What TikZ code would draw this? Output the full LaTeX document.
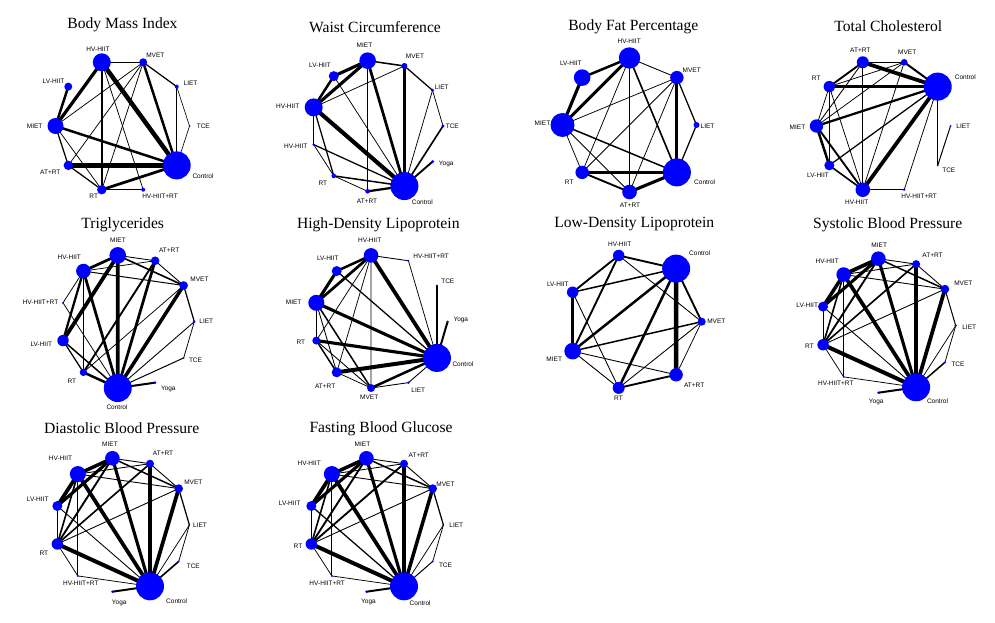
\documentclass[tikz,border=0pt]{standalone}
\usepackage{fontspec}
\setmainfont{Liberation Serif}
\newfontfamily\lbfont{Liberation Sans}
\usetikzlibrary{calc}
\pgfdeclarelayer{bg}\pgfsetlayers{bg,main}
\tikzset{
  nd/.style={circle, fill={rgb,255:red,0;green,0;blue,255}, draw=none, inner sep=0pt},
  lb/.style={font=\fontsize{6.5}{7}\selectfont\lbfont, inner sep=0pt},
  ttl/.style={font=\fontsize{15.6}{18}\selectfont, inner sep=0pt},
  edgeline/.style={draw=black, line cap=butt}
}
\newcommand\Ring[4]{%
  \foreach \nm/\sz [count=\k from 0] in \nodelist {%
    \node[nd, minimum size={2*\sz*1pt}] (\pp-\nm) at ($(#1,#2)+({-\k*360/#4}:#3)$) {};}}
\newcommand\edg[3]{\draw[edgeline, line width={#3*1.25pt}] (\pp-#1.center) -- (\pp-#2.center);}
\newcommand\lab[4]{\node[lb] (\pp-#1-l) at (#2,#3) {#4};}
\begin{document}
\begin{tikzpicture}[x=1pt,y=-1pt]
\begin{pgfonlayer}{bg}
\fill[white] (0,0) rectangle (995,623);
\end{pgfonlayer}
\path[use as bounding box] (0,0) rectangle (995,623);

% ---------- Panel a: Body Mass Index
\def\pp{a}
\node[ttl] (a-t) at (122.5,25) {Body Mass Index};
\def\nodelist{TCE/1, LIET/2, MVET/4, HV/9, LV/4, MIET/8, ATRT/4.7, RT/4.7, HVRT/2, Ctrl/14}
\Ring{122.5}{126}{67}{10}
\begin{pgfonlayer}{bg}
\edg{HV}{MVET}{1}\edg{HV}{MIET}{2.6}\edg{LV}{MIET}{2}\edg{HV}{Ctrl}{3.6}
\edg{HV}{RT}{1.2}\edg{HV}{HVRT}{0.6}\edg{MVET}{Ctrl}{2}\edg{MVET}{LIET}{1}
\edg{MVET}{MIET}{0.6}\edg{MVET}{ATRT}{0.6}\edg{MVET}{RT}{0.6}\edg{LIET}{Ctrl}{1}
\edg{LIET}{TCE}{0.5}\edg{TCE}{Ctrl}{0.5}\edg{MIET}{Ctrl}{2}\edg{MIET}{ATRT}{1}
\edg{MIET}{RT}{0.6}\edg{ATRT}{Ctrl}{3.4}\edg{ATRT}{RT}{1}\edg{RT}{Ctrl}{2.2}
\edg{RT}{HVRT}{0.6}
\end{pgfonlayer}
\lab{HV}{98}{49.3}{HV-HIIT}\lab{MVET}{155.3}{55}{MVET}\lab{LV}{53.5}{81}{LV-HIIT}
\lab{LIET}{190.5}{83}{LIET}\lab{MIET}{34.7}{126}{MIET}\lab{TCE}{203.3}{126.7}{TCE}
\lab{ATRT}{50.3}{172.3}{AT+RT}\lab{Ctrl}{203}{175.7}{Control}\lab{RT}{93.7}{196.7}{RT}
\lab{HVRT}{160}{196.7}{HV-HIIT+RT}

% ---------- Panel b: Waist Circumference
\def\pp{b}
\node[ttl] (b-t) at (375,26.7) {Waist Circumference};
\def\nodelist{TCE/1.7, LIET/1.7, MVET/3, MIET/8.3, LV/5, HV/9, HV2/1.3, RT/2.3, ATRT/2.3, Ctrl/14, Yoga/1.7}
\Ring{377}{126}{66}{11}
\begin{pgfonlayer}{bg}
\edg{MIET}{MVET}{1.2}\edg{MIET}{LV}{2.5}\edg{MIET}{HV}{2.5}\edg{MIET}{Ctrl}{2.2}
\edg{MIET}{ATRT}{0.6}\edg{LV}{HV}{2}\edg{LV}{Ctrl}{0.6}\edg{MVET}{HV}{0.6}
\edg{MVET}{LIET}{1}\edg{MVET}{Ctrl}{1.8}\edg{LIET}{TCE}{0.6}\edg{LIET}{Ctrl}{0.6}
\edg{TCE}{Ctrl}{1.3}\edg{Yoga}{Ctrl}{1.5}\edg{HV}{Ctrl}{3.3}\edg{HV}{HV2}{1}
\edg{HV}{RT}{1}\edg{HV2}{RT}{0.6}\edg{HV2}{Ctrl}{1}\edg{RT}{Ctrl}{1.2}
\edg{RT}{ATRT}{0.6}\edg{ATRT}{Ctrl}{1.8}
\end{pgfonlayer}
\lab{MIET}{364.5}{45}{MIET}\lab{MVET}{415}{56.7}{MVET}\lab{LV}{320}{65}{LV-HIIT}
\lab{LIET}{441.7}{87.3}{LIET}\lab{HV}{287.7}{106}{HV-HIIT}\lab{TCE}{452.3}{126}{TCE}
\lab{HV2}{295.8}{146.7}{HV-HIIT}\lab{Yoga}{446.2}{164}{Yoga}\lab{RT}{322.8}{183.3}{RT}
\lab{ATRT}{367}{201}{AT+RT}\lab{Ctrl}{422.3}{202.5}{Control}

% ---------- Panel c: Body Fat Percentage
\def\pp{c}
\node[ttl] (c-t) at (633.3,26.7) {Body Fat Percentage};
\def\nodelist{LIET/3, MVET/6.7, HV/10.7, LV/8.3, MIET/12, RT/6.7, ATRT/7.3, Ctrl/14}
\Ring{629.5}{125}{67}{8}
\begin{pgfonlayer}{bg}
\edg{HV}{LV}{2}\edg{HV}{MIET}{2.5}\edg{HV}{MVET}{0.7}\edg{HV}{Ctrl}{1.3}
\edg{HV}{RT}{0.6}\edg{HV}{ATRT}{0.6}\edg{LV}{MIET}{2.5}\edg{MVET}{MIET}{0.6}
\edg{MVET}{Ctrl}{2.5}\edg{MVET}{LIET}{1}\edg{MVET}{RT}{0.6}\edg{MVET}{ATRT}{0.6}
\edg{LIET}{Ctrl}{1}\edg{MIET}{Ctrl}{1.2}\edg{MIET}{RT}{0.6}\edg{MIET}{ATRT}{0.6}
\edg{RT}{Ctrl}{2.2}\edg{RT}{ATRT}{1.5}\edg{ATRT}{Ctrl}{2.5}
\end{pgfonlayer}
\lab{HV}{629.2}{41.7}{HV-HIIT}\lab{LV}{570.8}{63.3}{LV-HIIT}\lab{MVET}{691.7}{70}{MVET}
\lab{MIET}{542.5}{123.3}{MIET}\lab{LIET}{707.5}{126}{LIET}\lab{RT}{569.2}{182.3}{RT}
\lab{Ctrl}{704.7}{181.7}{Control}\lab{ATRT}{630}{205}{AT+RT}

% ---------- Panel d: Total Cholesterol
\def\pp{d}
\node[ttl] (d-t) at (888.3,26) {Total Cholesterol};
\def\nodelist{LIET/1, Ctrl/14, MVET/3.3, ATRT/6, RT/5.7, MIET/6.7, LV/5, HV/7.3, HVRT/1.3, TCE/1}
\Ring{883.5}{126}{67}{10}
\begin{pgfonlayer}{bg}
\edg{ATRT}{MVET}{0.7}\edg{ATRT}{Ctrl}{3}\edg{ATRT}{RT}{1.5}\edg{ATRT}{MIET}{0.7}
\edg{ATRT}{HV}{0.7}\edg{MVET}{Ctrl}{1.6}\edg{MVET}{RT}{0.6}\edg{MVET}{MIET}{0.6}
\edg{MVET}{HV}{0.6}\edg{RT}{Ctrl}{2}\edg{RT}{MIET}{0.6}\edg{RT}{LV}{0.6}
\edg{RT}{HV}{0.6}\edg{MIET}{Ctrl}{1.8}\edg{MIET}{LV}{2}\edg{MIET}{HV}{1.5}
\edg{LV}{Ctrl}{1}\edg{LV}{HV}{1.3}\edg{HV}{Ctrl}{3}\edg{HV}{HVRT}{0.6}
\edg{HVRT}{Ctrl}{0.6}\edg{Ctrl}{TCE}{0.8}\edg{TCE}{LIET}{0.8}
\end{pgfonlayer}
\lab{ATRT}{860.3}{50}{AT+RT}\lab{MVET}{907.2}{52.3}{MVET}\lab{Ctrl}{965.3}{77.3}{Control}
\lab{RT}{816.2}{78.3}{RT}\lab{MIET}{797.5}{127.7}{MIET}\lab{LIET}{963.3}{126}{LIET}
\lab{LV}{818}{175.7}{LV-HIIT}\lab{TCE}{948.8}{170}{TCE}\lab{HV}{856.7}{202.3}{HV-HIIT}
\lab{HVRT}{919.2}{196.7}{HV-HIIT+RT}

% ---------- Panel e: Triglycerides
\def\pp{e}
\node[ttl] (e-t) at (122.7,224.3) {Triglycerides};
\def\nodelist{LIET/1.3, MVET/4.3, ATRT/4.3, MIET/8.3, HV/7.3, HVRT/1, LV/5.7, RT/3.7, Ctrl/14, Yoga/1.3, TCE/1}
\Ring{127.3}{321.7}{67}{11}
\begin{pgfonlayer}{bg}
\edg{MIET}{ATRT}{0.7}\edg{MIET}{HV}{2.2}\edg{MIET}{MVET}{1.3}\edg{MIET}{LV}{3}
\edg{MIET}{Ctrl}{3}\edg{ATRT}{HV}{0.6}\edg{ATRT}{MVET}{0.7}\edg{ATRT}{Ctrl}{2.2}
\edg{ATRT}{RT}{1.5}\edg{HV}{MVET}{0.8}\edg{HV}{HVRT}{0.6}\edg{HV}{LV}{1.8}
\edg{HV}{Ctrl}{2.2}\edg{HV}{RT}{0.8}\edg{MVET}{Ctrl}{2.8}\edg{MVET}{LIET}{1}
\edg{MVET}{RT}{0.6}\edg{HVRT}{Ctrl}{0.6}\edg{LV}{RT}{1}\edg{LV}{Ctrl}{1.2}
\edg{LIET}{Ctrl}{0.7}\edg{LIET}{TCE}{0.6}\edg{TCE}{Ctrl}{0.8}\edg{RT}{Ctrl}{2}
\edg{Yoga}{Ctrl}{1.6}
\end{pgfonlayer}
\lab{MIET}{118}{240}{MIET}\lab{ATRT}{169.2}{250.7}{AT+RT}\lab{HV}{69.3}{257.3}{HV-HIIT}
\lab{MVET}{199.5}{279}{MVET}\lab{HVRT}{40.5}{302.7}{HV-HIIT+RT}\lab{LIET}{206.3}{321.7}{LIET}
\lab{LV}{41.3}{344}{LV-HIIT}\lab{TCE}{195.5}{360}{TCE}\lab{RT}{71.8}{381.7}{RT}
\lab{Yoga}{168.3}{389.3}{Yoga}\lab{Ctrl}{117}{406.7}{Control}

% ---------- Panel f: High-Density Lipoprotein
\def\pp{f}
\node[ttl] (f-t) at (378.3,224.3) {High-Density Lipoprotein};
\def\nodelist{Yoga/1.3, TCE/1, HVRT/1, HV/7.3, LV/5, MIET/8, RT/4, ATRT/5, MVET/4, LIET/1.3, Ctrl/14}
\Ring{380.6}{321.7}{67}{11}
\begin{pgfonlayer}{bg}
\edg{HV}{HVRT}{0.7}\edg{HV}{LV}{2}\edg{HV}{MIET}{2.2}\edg{HV}{Ctrl}{3}
\edg{HV}{RT}{0.6}\edg{HV}{ATRT}{0.6}\edg{HV}{MVET}{0.6}\edg{LV}{MIET}{2.5}
\edg{LV}{Ctrl}{1}\edg{HVRT}{Ctrl}{0.6}\edg{TCE}{Ctrl}{1}\edg{Yoga}{Ctrl}{1.6}
\edg{MIET}{Ctrl}{2.5}\edg{MIET}{RT}{0.6}\edg{MIET}{ATRT}{0.7}\edg{MIET}{MVET}{1.2}
\edg{RT}{Ctrl}{2.5}\edg{RT}{ATRT}{1.2}\edg{RT}{MVET}{0.7}\edg{ATRT}{Ctrl}{3.2}
\edg{ATRT}{MVET}{0.6}\edg{MVET}{Ctrl}{2}\edg{MVET}{LIET}{0.7}\edg{LIET}{Ctrl}{0.7}
\end{pgfonlayer}
\lab{HV}{369.7}{240}{HV-HIIT}\lab{HVRT}{431.2}{256.7}{HV-HIIT+RT}\lab{LV}{327.8}{258.3}{LV-HIIT}
\lab{TCE}{447.8}{281}{TCE}\lab{MIET}{293.7}{302.7}{MIET}\lab{Yoga}{460.8}{320}{Yoga}
\lab{RT}{300.8}{342.3}{RT}\lab{Ctrl}{463}{364.3}{Control}\lab{ATRT}{325.2}{386.7}{AT+RT}
\lab{LIET}{418.3}{390}{LIET}\lab{MVET}{369.2}{397.7}{MVET}

% ---------- Panel g: Low-Density Lipoprotein
\def\pp{g}
\node[ttl] (g-t) at (634.3,224.3) {Low-Density Lipoprotein};
\def\nodelist{MVET/4, Ctrl/14, HV/5.7, LV/5.7, MIET/8.3, RT/6, ATRT/6.7}
\Ring{633.8}{321.7}{67.9}{7}
\begin{pgfonlayer}{bg}
\edg{HV}{Ctrl}{1.5}\edg{HV}{LV}{1.5}\edg{HV}{MIET}{1.5}\edg{HV}{MVET}{0.7}
\edg{LV}{Ctrl}{1.2}\edg{LV}{MIET}{2}\edg{LV}{RT}{0.7}\edg{MIET}{Ctrl}{2}
\edg{MIET}{MVET}{1.2}\edg{MIET}{ATRT}{0.7}\edg{MIET}{RT}{0.7}\edg{Ctrl}{RT}{2}
\edg{Ctrl}{ATRT}{3.5}\edg{Ctrl}{MVET}{1.5}\edg{MVET}{RT}{0.7}\edg{MVET}{ATRT}{0.6}
\edg{RT}{ATRT}{1.5}
\end{pgfonlayer}
\lab{HV}{619.7}{244.3}{HV-HIIT}\lab{Ctrl}{699.7}{253.3}{Control}\lab{LV}{557.8}{284}{LV-HIIT}
\lab{MVET}{716.3}{321.7}{MVET}\lab{MIET}{554.2}{359}{MIET}\lab{ATRT}{694.2}{385}{AT+RT}
\lab{RT}{618.5}{398.3}{RT}

% ---------- Panel h: Systolic Blood Pressure
\def\pp{h}
\node[ttl] (h-t) at (887.7,224.3) {Systolic Blood Pressure};
\def\nodelist{LIET/1.3, MVET/4.3, ATRT/4, MIET/7.3, HV/7.3, LV/5, RT/5.7, HVRT/1, Yoga/1.3, Ctrl/14, TCE/1}
\Ring{888}{325.7}{67.7}{11}
\begin{pgfonlayer}{bg}
\edg{MIET}{HV}{3}\edg{MIET}{LV}{2.5}\edg{MIET}{ATRT}{0.7}\edg{MIET}{MVET}{1.2}
\edg{MIET}{Ctrl}{2.5}\edg{MIET}{RT}{1.5}\edg{ATRT}{HV}{0.7}\edg{ATRT}{MVET}{0.7}
\edg{ATRT}{Ctrl}{3}\edg{ATRT}{RT}{1.3}\edg{HV}{LV}{2.8}\edg{HV}{MVET}{0.7}
\edg{HV}{RT}{1.3}\edg{HV}{HVRT}{0.7}\edg{HV}{Ctrl}{3}\edg{MVET}{Ctrl}{3}
\edg{MVET}{LIET}{0.8}\edg{MVET}{RT}{0.7}\edg{LV}{RT}{0.6}\edg{LV}{Ctrl}{0.7}
\edg{RT}{Ctrl}{3.2}\edg{RT}{HVRT}{0.6}\edg{HVRT}{Ctrl}{0.6}\edg{LIET}{TCE}{0.6}
\edg{LIET}{Ctrl}{0.6}\edg{TCE}{Ctrl}{1.2}\edg{Yoga}{Ctrl}{1.6}
\end{pgfonlayer}
\lab{MIET}{879.2}{245.7}{MIET}\lab{ATRT}{932.5}{255}{AT+RT}\lab{HV}{827.2}{261}{HV-HIIT}
\lab{MVET}{963.3}{283.3}{MVET}\lab{LV}{807.2}{305}{LV-HIIT}\lab{LIET}{969.2}{327.3}{LIET}
\lab{RT}{809.5}{346.7}{RT}\lab{TCE}{958}{364}{TCE}\lab{HVRT}{835.8}{383.3}{HV-HIIT+RT}
\lab{Ctrl}{937.5}{401}{Control}\lab{Yoga}{876.2}{401.7}{Yoga}

% ---------- Panel i: Diastolic Blood Pressure
\def\pp{i}
\node[ttl] (i-t) at (121.7,428.3) {Diastolic Blood Pressure};
\def\nodelist{LIET/1, MVET/4.3, ATRT/4, MIET/7.3, HV/8, LV/5, RT/5.7, HVRT/1, Yoga/1.3, Ctrl/14, TCE/1}
\Ring{122}{525}{67.4}{11}
\begin{pgfonlayer}{bg}
\edg{MIET}{HV}{2.8}\edg{MIET}{LV}{2.5}\edg{MIET}{ATRT}{0.7}\edg{MIET}{MVET}{1.2}
\edg{MIET}{Ctrl}{2.5}\edg{MIET}{RT}{1.5}\edg{ATRT}{HV}{0.7}\edg{ATRT}{MVET}{0.7}
\edg{ATRT}{Ctrl}{3}\edg{ATRT}{RT}{1.3}\edg{HV}{LV}{3}\edg{HV}{MVET}{0.7}
\edg{HV}{RT}{1.3}\edg{HV}{HVRT}{0.7}\edg{HV}{Ctrl}{3}\edg{MVET}{Ctrl}{3}
\edg{MVET}{LIET}{1}\edg{MVET}{RT}{0.7}\edg{LV}{RT}{0.7}\edg{LV}{Ctrl}{0.7}
\edg{RT}{Ctrl}{3.2}\edg{RT}{HVRT}{0.6}\edg{HVRT}{Ctrl}{0.6}\edg{LIET}{TCE}{0.6}
\edg{LIET}{Ctrl}{0.6}\edg{TCE}{Ctrl}{1.3}\edg{Yoga}{Ctrl}{1.6}
\end{pgfonlayer}
\lab{MIET}{110}{444}{MIET}\lab{ATRT}{163}{453.3}{AT+RT}\lab{HV}{60.5}{458.3}{HV-HIIT}
\lab{MVET}{193.3}{482.7}{MVET}\lab{LV}{37.7}{499.3}{LV-HIIT}\lab{LIET}{200}{525}{LIET}
\lab{RT}{43.8}{553.3}{RT}\lab{TCE}{193.3}{566.7}{TCE}\lab{HVRT}{80.8}{583.3}{HV-HIIT+RT}
\lab{Ctrl}{176.7}{600.7}{Control}\lab{Yoga}{119.2}{602.7}{Yoga}

% ---------- Panel j: Fasting Blood Glucose
\def\pp{j}
\node[ttl] (j-t) at (381,428.3) {Fasting Blood Glucose};
\def\nodelist{LIET/1, MVET/4.3, ATRT/4, MIET/7.3, HV/8, LV/5, RT/5.7, HVRT/1, Yoga/1.3, Ctrl/14, TCE/1}
\Ring{376}{525}{67.4}{11}
\begin{pgfonlayer}{bg}
\edg{MIET}{HV}{2.8}\edg{MIET}{LV}{2.5}\edg{MIET}{ATRT}{0.7}\edg{MIET}{MVET}{1.2}
\edg{MIET}{Ctrl}{2.5}\edg{MIET}{RT}{1.5}\edg{ATRT}{HV}{0.7}\edg{ATRT}{MVET}{0.7}
\edg{ATRT}{Ctrl}{3.2}\edg{ATRT}{RT}{1.5}\edg{HV}{LV}{3}\edg{HV}{MVET}{0.7}
\edg{HV}{RT}{1.3}\edg{HV}{HVRT}{0.7}\edg{HV}{Ctrl}{3}\edg{MVET}{Ctrl}{2.8}
\edg{MVET}{LIET}{1}\edg{MVET}{RT}{0.7}\edg{LV}{RT}{0.7}\edg{LV}{Ctrl}{1}
\edg{RT}{Ctrl}{3.2}\edg{RT}{HVRT}{0.6}\edg{HVRT}{Ctrl}{0.6}\edg{LIET}{TCE}{0.6}
\edg{LIET}{Ctrl}{0.6}\edg{TCE}{Ctrl}{0.8}\edg{Yoga}{Ctrl}{1.6}
\end{pgfonlayer}
\lab{MIET}{362.5}{444}{MIET}\lab{ATRT}{418.8}{455}{AT+RT}\lab{HV}{309.2}{463.3}{HV-HIIT}
\lab{MVET}{445.5}{484.3}{MVET}\lab{LV}{289.7}{503.3}{LV-HIIT}\lab{LIET}{456.3}{525}{LIET}
\lab{RT}{298}{546.7}{RT}\lab{TCE}{445.5}{565}{TCE}\lab{HVRT}{327.2}{583.3}{HV-HIIT+RT}
\lab{Ctrl}{420.2}{603.3}{Control}\lab{Yoga}{368.5}{601.7}{Yoga}
\end{tikzpicture}
\end{document}
